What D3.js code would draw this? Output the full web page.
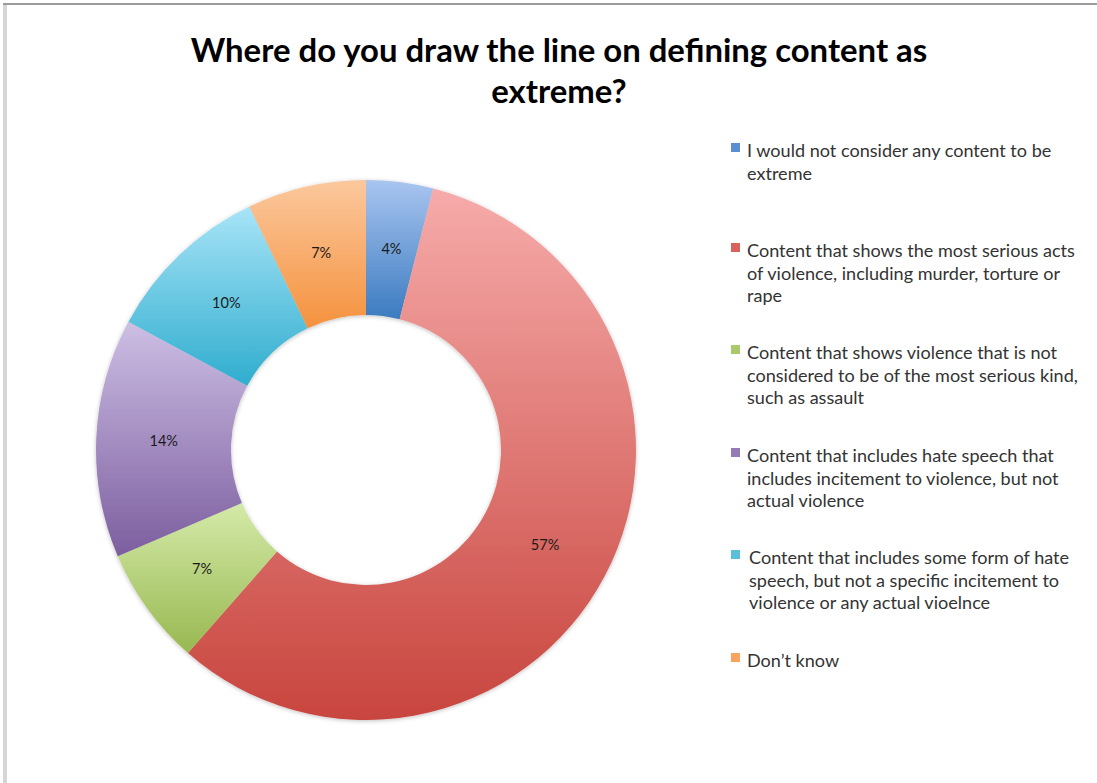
<!DOCTYPE html>
<html>
<head>
<meta charset="utf-8">
<script src="https://cdn.jsdelivr.net/npm/d3@7"></script>
<style>
  html, body { margin: 0; padding: 0; background: #fff; }
  svg { display: block; }
</style>
</head>
<body>
<svg id="chart" width="1097" height="783"></svg>
<script>
// ---- data ----
const titleLines = ["Where do you draw the line on defining content as", "extreme?"];
const categories = [
  "I would not consider any content to be\nextreme",
  "Content that shows the most serious acts\nof violence, including murder, torture or\nrape",
  "Content that shows violence that is not\nconsidered to be of the most serious kind,\nsuch as assault",
  "Content that includes hate speech that\nincludes incitement to violence, but not\nactual violence",
  "Content that includes some form of hate\nspeech, but not a specific incitement to\nviolence or any actual vioelnce",
  "Don\u2019t know"
];
const values = [4.0, 57.4, 7.1, 14.3, 10.0, 7.1];
const valueLabels = ["4%", "57%", "7%", "14%", "10%", "7%"];
const colorTop = ["#a9c5f0", "#f6abaa", "#d4eaa9", "#cdbfe4", "#a8e4f7", "#fbc89d"];
const colorBottom = ["#3b7bc0", "#c8453e", "#98b850", "#7c5e9f", "#2fadce", "#f5923e"];
const legendColor = ["#5b8fd0", "#d9625d", "#a9c96b", "#957bb6", "#5cbfd9", "#f8a45c"];

// ---- layout ----
const svg = d3.select("#chart");
const W = 1097, H = 783;
const cx = 366, cy = 450, rOuter = 270, rInner = 135;
const FONT = "Lato, 'Open Sans', 'DejaVu Sans', sans-serif";

// frame
svg.append("rect").attr("x", 3).attr("y", 3).attr("width", 4).attr("height", H - 3).attr("fill", "#d6d6d6");
svg.append("rect").attr("x", 3).attr("y", 3).attr("width", W - 3).attr("height", 2).attr("fill", "#9c9c9c");

const defs = svg.append("defs");
colorTop.forEach((c, i) => {
  const g = defs.append("linearGradient").attr("id", "grad" + i)
    .attr("x1", 0).attr("y1", 0).attr("x2", 0).attr("y2", 1);
  g.append("stop").attr("offset", "0%").attr("stop-color", c);
  g.append("stop").attr("offset", "100%").attr("stop-color", colorBottom[i]);
});
const shadow = defs.append("filter").attr("id", "shadow")
  .attr("x", "-10%").attr("y", "-10%").attr("width", "120%").attr("height", "120%");
shadow.append("feDropShadow").attr("dx", 0).attr("dy", 1).attr("stdDeviation", 2)
  .attr("flood-color", "#000").attr("flood-opacity", 0.25);

// title
const title = svg.append("text")
  .attr("text-anchor", "middle")
  .attr("font-family", FONT)
  .attr("font-weight", "bold")
  .attr("font-size", 30)
  .attr("fill", "#000");
title.selectAll("tspan").data(titleLines).join("tspan")
  .attr("x", 559).attr("y", (d, i) => 62 + i * 41).text(d => d);
{
  const t0 = title.select("tspan").node().getComputedTextLength();
  title.attr("font-size", 30 * 737 / t0);
}

// donut
const pie = d3.pie().sort(null).value(d => d).startAngle(0).endAngle(2 * Math.PI);
const arcs = pie(values);
const arc = d3.arc().innerRadius(rInner).outerRadius(rOuter);
const labelArc = d3.arc().innerRadius((rInner + rOuter) / 2).outerRadius((rInner + rOuter) / 2);

const g = svg.append("g").attr("transform", `translate(${cx},${cy})`);
g.append("g").attr("filter", "url(#shadow)")
  .selectAll("path").data(arcs).join("path")
  .attr("d", arc)
  .attr("fill", (d, i) => `url(#grad${i})`);

g.selectAll("text.lbl").data(arcs).join("text")
  .attr("class", "lbl")
  .attr("transform", d => `translate(${labelArc.centroid(d)})`)
  .attr("text-anchor", "middle")
  .attr("dy", "0.35em")
  .attr("font-family", FONT)
  .attr("font-size", 14.5)
  .attr("fill", "#1a1a1a")
  .text((d, i) => valueLabels[i]);

// legend
const itemY = [157, 257, 359, 462, 564, 667];
const lineH = 22.5;
const leg = svg.append("g");
const items = leg.selectAll("g").data(categories).join("g");
items.append("rect")
  .attr("x", 731).attr("y", (d, i) => itemY[i] - 14)
  .attr("width", 9).attr("height", 9)
  .attr("fill", (d, i) => legendColor[i]);
const texts = items.append("text")
  .attr("font-family", FONT)
  .attr("font-size", 16)
  .attr("fill", "#333");
texts.each(function(d, i) {
  d3.select(this).selectAll("tspan").data(d.split("\n")).join("tspan")
    .attr("x", i === 4 ? 749 : 747)
    .attr("y", (s, j) => itemY[i] + j * lineH)
    .text(s => s);
});
{
  const ref = texts.filter((d, i) => i === 1).select("tspan").node().getComputedTextLength();
  texts.attr("font-size", 16 * 328 / ref);
}
</script>
</body>
</html>
